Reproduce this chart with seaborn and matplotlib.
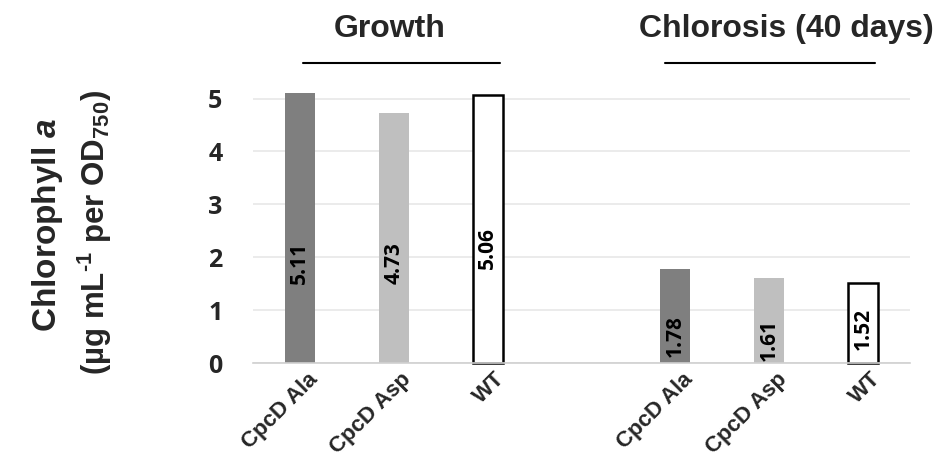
import matplotlib
matplotlib.use("Agg")
import matplotlib.pyplot as plt
import matplotlib.transforms as mtransforms
import seaborn as sns
import pandas as pd
from matplotlib.lines import Line2D

# ---- data ----
conditions = ["Growth", "Chlorosis (40 days)"]
strains = ["CpcD Ala", "CpcD Asp", "WT"]
growth = [5.11, 4.73, 5.06]
chlorosis = [1.78, 1.61, 1.52]
yticks = [0, 1, 2, 3, 4, 5]

sns.set_theme(style="white")
plt.rcParams["font.family"] = ["Liberation Sans", "DejaVu Sans"]
plt.rcParams["mathtext.fontset"] = "custom"
plt.rcParams["mathtext.rm"] = "Liberation Sans:bold"
plt.rcParams["mathtext.bf"] = "Liberation Sans:bold"
plt.rcParams["mathtext.it"] = "Liberation Sans:italic:bold"
plt.rcParams["mathtext.default"] = "rm"

rows = []
for cond, vals in zip(conditions, [growth, chlorosis]):
    for s, v in zip(strains, vals):
        rows.append({"key": f"{cond}|{s}", "strain": s, "value": v})
df = pd.DataFrame(rows)
order = [f"{conditions[0]}|{s}" for s in strains] + ["gap"] + [f"{conditions[1]}|{s}" for s in strains]

fills = {"CpcD Ala": "#7f7f7f", "CpcD Asp": "#bfbfbf", "WT": "#ffffff"}

fig = plt.figure(figsize=(9.37, 4.61), dpi=100)
ax = fig.add_axes([253 / 937, 1 - 363 / 461, (910 - 253) / 937, (363 - 88) / 461])

sns.barplot(data=df, x="key", y="value", hue="strain", order=order,
            palette=fills, width=0.32, dodge=False, legend=False, ax=ax, saturation=1)

for p in ax.patches:
    if p.get_height() == 0 or p.get_width() == 0:
        continue
    fc = p.get_facecolor()
    if fc[0] > 0.99 and fc[1] > 0.99:
        p.set_edgecolor("black")
        p.set_linewidth(1.8)
    else:
        p.set_edgecolor("none")
    p.set_clip_on(False)

ax.set_ylim(0, 5.2)
ax.set_yticks(yticks)
ax.set_yticklabels([str(t) for t in yticks], fontfamily="Open Sans", fontweight="bold", fontsize=18)
ax.tick_params(axis="y", length=0, pad=22)
ax.yaxis.grid(True, color="#e8e8e8", linewidth=1.2)
ax.set_axisbelow(True)
for side in ["top", "right", "left"]:
    ax.spines[side].set_visible(False)
ax.spines["bottom"].set_color("#d0d0d0")
ax.spines["bottom"].set_linewidth(1.2)

ax.set_xticks(range(len(order)))
ax.set_xticklabels([k.split("|")[1] if "|" in k else "" for k in order],
                   rotation=45, ha="right", rotation_mode="anchor",
                   fontsize=16, fontweight="bold", fontfamily="Liberation Sans")
ax.tick_params(axis="x", length=0, pad=4)
offset = mtransforms.ScaledTranslation(7 / 100, 0, fig.dpi_scale_trans)
for lab in ax.get_xticklabels():
    lab.set_transform(lab.get_transform() + offset)
ax.set_xlabel("")
ax.set_ylabel("")

# value labels inside bars
label_frac = [0.37, 0.40, 0.43, 0.29, 0.27, 0.42]
vals = growth + chlorosis
xpos = [0, 1, 2, 4, 5, 6]
for x, v, f in zip(xpos, vals, label_frac):
    ax.text(x, v * f, f"{v:.2f}", rotation=90, ha="center", va="center",
            fontfamily="Open Sans", fontweight="bold", fontsize=15, color="black")

# y axis label (two lines)
fig.text(48 / 937, 1 - 225 / 461, "Chlorophyll $\\it{a}$", rotation=90,
         ha="center", va="center", fontsize=24, fontweight="bold")
fig.text(95 / 937, 1 - 232 / 461, "(µg mL$^{\\text{-1}}$ per OD$_{750}$)", rotation=90,
         ha="center", va="center", fontsize=22.5, fontweight="bold")

# group titles with lines
fig.text(390 / 937, 1 - 37 / 461, conditions[0], ha="center", va="baseline",
         fontsize=23, fontweight="bold")
fig.text(786 / 937, 1 - 37 / 461, conditions[1], ha="center", va="baseline",
         fontsize=23, fontweight="bold")
fig.add_artist(Line2D([303 / 937, 500 / 937], [1 - 63 / 461] * 2, color="black", lw=1.5))
fig.add_artist(Line2D([665 / 937, 875 / 937], [1 - 63 / 461] * 2, color="black", lw=1.5))

fig.savefig("out.png", dpi=100)
